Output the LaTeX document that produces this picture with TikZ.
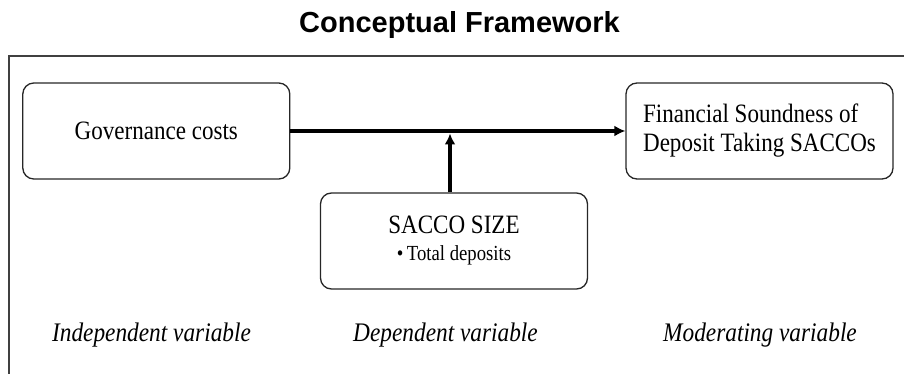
\documentclass[tikz,border=0pt]{standalone}
\usepackage{fontspec}
\setmainfont{Liberation Serif}[FakeStretch=0.87]
\newfontfamily\headfont{Liberation Sans}
\usetikzlibrary{arrows.meta}

\begin{document}
\begin{tikzpicture}[x=1pt, y=-1pt,
		box/.style={rectangle, rounded corners=11pt, draw=black!85, line width=1.3pt, minimum width=267pt, minimum height=96pt, inner sep=0pt, font=\fontsize{26.5}{29}\selectfont},
		varname/.style={anchor=base, font=\fontsize{26.8}{30}\selectfont\itshape},
		heading/.style={anchor=base, font=\headfont\bfseries\fontsize{29}{34}\selectfont},
		link/.style={line width=3.6pt, -{Latex[length=11pt, width=11pt]}}]
		\useasboundingbox (0,0) rectangle (904,374);
		\draw[black!75, line width=1.5pt] (9,374) -- (9,56) -- (904,56);
		\node[heading] (7) at (459.5,33) {Conceptual Framework};
		\node[box] (1) at (156.3,131) {Governance costs};
		\node[box, align=left] (2) at (759.5,131) {Financial Soundness of\\Deposit Taking SACCOs};
		\node[box, align=center] (3) at (454,241) {SACCO SIZE\\[-2pt]{\fontsize{21.5}{24}\selectfont\textbullet\,Total deposits}};
		\node[varname] (4) at (151.5,341) {Independent variable};
		\node[varname] (5) at (445.5,341) {Dependent variable};
		\node[varname] (6) at (760,341) {Moderating variable};
		\coordinate (8) at (450,133.5);
		
		\path (1) edge[link] (2);
		\path ([xshift=-4pt]3.north) edge[link] (8);
		
	\end{tikzpicture}
\end{document}
